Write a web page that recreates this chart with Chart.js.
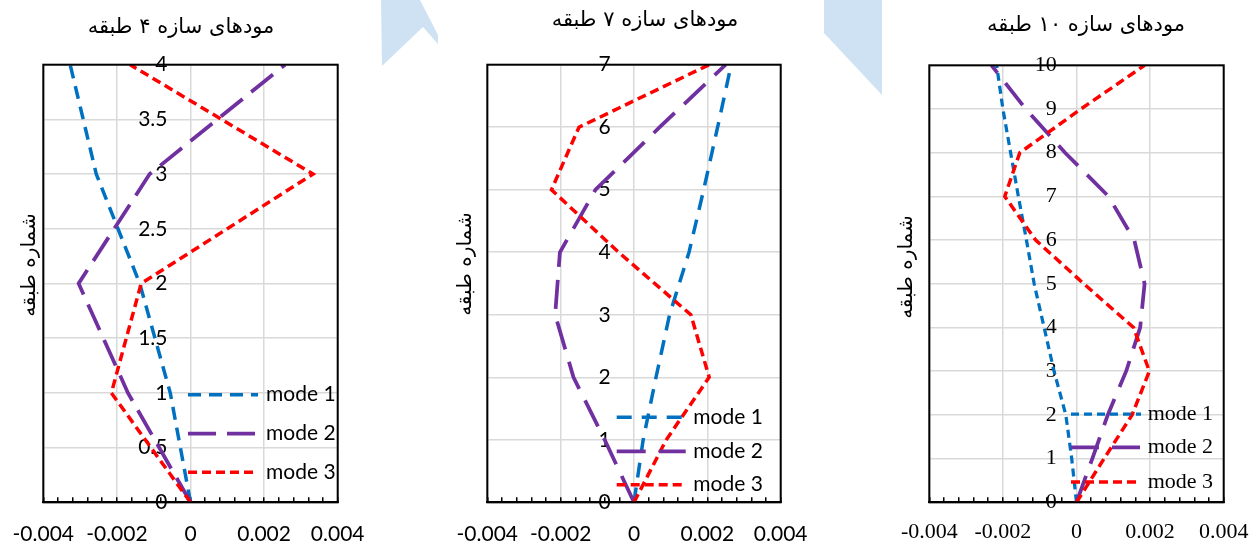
<!DOCTYPE html>
<html><head><meta charset="utf-8">
<script src="https://cdn.jsdelivr.net/npm/chart.js@4.4.1/dist/chart.umd.min.js"></script>
<style>
html,body{margin:0;padding:0;background:#fff;}
#wrap{position:relative;width:1252px;height:544px;overflow:hidden;background:#fff;}
#wrap canvas{position:absolute;left:0;top:0;}
svg.deco{position:absolute;left:0;top:0;}
</style></head><body>
<div id="wrap">
<svg class="deco" width="1252" height="544"><polygon points="381,0 420,0 438,35 438,44 423,27 382,66" fill="#cfe2f3"/><polygon points="824,0 882,0 882,95 824,33" fill="#cfe2f3"/></svg>
<canvas id="c1" width="1252" height="544"></canvas>
<canvas id="c2" width="1252" height="544"></canvas>
<canvas id="c3" width="1252" height="544"></canvas>
</div>
<script>
// ---------- data ----------
const seriesNames = ['mode 1', 'mode 2', 'mode 3'];
const titles = ['مودهای سازه ۴ طبقه', 'مودهای سازه ۷ طبقه', 'مودهای سازه ۱۰ طبقه'];
const yAxisTitle = 'شماره طبقه';
const xTickLabels = ['-0.004', '-0.002', '0', '0.002', '0.004'];

const floors4 = [0, 1, 2, 3, 4];
const mode1_4 = [0, -0.00055, -0.00138, -0.00256, -0.00327];
const mode2_4 = [0, -0.0017, -0.00304, -0.00111, 0.00257];
const mode3_4 = [0, -0.00215, -0.00134, 0.00333, -0.00164];
const yTickLabels4 = ['0', '0.5', '1', '1.5', '2', '2.5', '3', '3.5', '4'];

const floors7 = [0, 1, 2, 3, 4, 5, 6, 7];
const mode1_7 = [0, 0.00025, 0.0006, 0.00097, 0.0015, 0.0019, 0.00228, 0.00265];
const mode2_7 = [0, -0.0008, -0.00165, -0.00215, -0.00202, -0.00105, 0.0007, 0.0025];
const mode3_7 = [0, 0.00088, 0.00205, 0.00155, -0.00042, -0.00225, -0.0015, 0.00205];
const yTickLabels7 = ['0', '1', '2', '3', '4', '5', '6', '7'];

const floors10 = [0, 1, 2, 3, 4, 5, 6, 7, 8, 9, 10];
const mode1_10 = [0, -0.00013, -0.00029, -0.00061, -0.00088, -0.00115, -0.00136, -0.00158, -0.00179, -0.002, -0.00217];
const mode2_10 = [0, 0.00043, 0.00085, 0.00135, 0.00173, 0.00185, 0.00157, 0.00087, -0.00031, -0.00138, -0.00231];
const mode3_10 = [0, 0.00075, 0.00151, 0.00198, 0.00155, 0.0002, -0.00111, -0.00195, -0.00154, 0.00012, 0.00185];
const yTickLabels10 = ['0', '1', '2', '3', '4', '5', '6', '7', '8', '9', '10'];

// ---------- styling ----------
const BLUE = '#0070C0', PURPLE = '#7030A0', RED = '#FF0000', GRID = '#D9D9D9';
const W = 1252, H = 544, XH = 41;
const PERSIAN_FONT = '"DejaVu Sans"';

function isMajor(v) { const q = v / 0.002; return Math.abs(q - Math.round(q)) < 1e-6; }

const framePlugin = {
  id: 'frame',
  afterDraw(chart, args, o) {
    const {ctx, chartArea: a} = chart;
    ctx.save();
    ctx.strokeStyle = o.color; ctx.lineWidth = o.width;
    ctx.strokeRect(a.left, a.top, a.right - a.left, a.bottom - a.top);
    ctx.restore();
  }
};

const insideLegend = {
  id: 'insideLegend',
  afterDraw(chart, args, o) {
    const ctx = chart.ctx;
    chart.data.datasets.forEach((ds, i) => {
      const y = o.rows[i];
      ctx.save();
      ctx.strokeStyle = ds.borderColor; ctx.lineWidth = ds.borderWidth;
      ctx.setLineDash(ds.borderDash || []);
      ctx.beginPath(); ctx.moveTo(o.x1, y); ctx.lineTo(o.x2, y); ctx.stroke();
      ctx.setLineDash([]);
      ctx.fillStyle = '#000'; ctx.font = o.font;
      ctx.textBaseline = 'middle'; ctx.textAlign = 'left';
      ctx.fillText(ds.label, o.textX, y);
      ctx.restore();
    });
  }
};

const captions = {
  id: 'captions',
  afterDraw(chart, args, o) {
    const ctx = chart.ctx;
    ctx.save();
    ctx.fillStyle = '#000';
    ctx.textAlign = 'center'; ctx.textBaseline = 'middle';
    ctx.font = o.titleFont;
    ctx.fillText(o.title, o.titleX, o.titleY);
    ctx.translate(o.yTitleX, o.yTitleY);
    ctx.rotate(-Math.PI / 2);
    ctx.font = o.yTitleFont;
    ctx.fillText(o.yTitle, 0, 0);
    ctx.restore();
  }
};

function buildChart(id, spec) {
  const a = spec.area;
  const font = {family: spec.family, size: spec.size};
  const datasets = spec.series.map((s, i) => ({
    label: seriesNames[i],
    data: s.values.map((v, k) => ({x: v, y: spec.floors[k]})),
    showLine: true,
    borderColor: s.color, backgroundColor: s.color,
    borderWidth: s.width, borderDash: s.dash, borderCapStyle: 'butt',
    pointRadius: 0, pointHoverRadius: 0, tension: 0, fill: false,
    order: 3 - i
  }));
  return new Chart(document.getElementById(id), {
    type: 'scatter',
    data: {datasets},
    options: {
      responsive: false, animation: false, devicePixelRatio: 1, events: [],
      layout: {padding: {left: a.left, right: W - a.right, top: a.top, bottom: H - a.bottom - XH}},
      plugins: {
        legend: {display: false}, tooltip: {enabled: false}, title: {display: false},
        frame: {color: '#000', width: 2},
        insideLegend: spec.legend,
        captions: spec.captions
      },
      scales: {
        x: {
          type: 'linear', position: 'bottom', min: -0.004, max: 0.004,
          afterFit: s => { s.height = XH; s.paddingLeft = 0; s.paddingRight = 0; },
          ticks: {
            stepSize: 0.0004, autoSkip: false, maxRotation: 0, minRotation: 0,
            padding: spec.xPad, color: '#000', font,
            callback: v => isMajor(v) ? xTickLabels[Math.round(v / 0.002) + 2] : ''
          },
          grid: {
            color: c => (c.tick && isMajor(c.tick.value)) ? GRID : 'rgba(0,0,0,0)',
            lineWidth: 1.5,
            drawTicks: true, tickLength: -5, tickColor: '#000', tickWidth: 1.5
          },
          border: {display: true, color: '#000', width: 2}
        },
        y: {
          type: 'linear', position: {x: -spec.yLabelGap}, min: 0, max: spec.floors[spec.floors.length - 1],
          afterFit: s => { s.width = 0; s.paddingTop = 0; s.paddingBottom = 0; },
          ticks: {
            stepSize: spec.yStep, color: '#000', font, autoSkip: false,
            callback: (v, i) => spec.yLabels[i]
          },
          grid: {color: GRID, lineWidth: 1.5, drawTicks: false},
          border: {display: false}
        }
      }
    },
    plugins: [framePlugin, insideLegend, captions]
  });
}

buildChart('c1', {
  area: {left: 43.3, right: 337.7, top: 64.7, bottom: 502.3},
  family: 'Lato', size: 21, xPad: 24, yLabelGap: 0.000625, yStep: 0.5,
  floors: floors4, yLabels: yTickLabels4,
  series: [
    {values: mode1_4, color: BLUE, width: 3.5, dash: [13, 8]},
    {values: mode2_4, color: PURPLE, width: 3.75, dash: [28, 11]},
    {values: mode3_4, color: RED, width: 3.5, dash: [9, 5]}
  ],
  legend: {x1: 188, x2: 258, textX: 266, rows: [394.7, 433.7, 472.3], font: '21px Lato'},
  captions: {title: titles[0], titleX: 181, titleY: 28, titleFont: '21px ' + PERSIAN_FONT,
             yTitle: yAxisTitle, yTitleX: 30, yTitleY: 265, yTitleFont: '20px ' + PERSIAN_FONT}
});

buildChart('c2', {
  area: {left: 487.3, right: 780.7, top: 64.7, bottom: 502.3},
  family: 'Lato', size: 21, xPad: 24, yLabelGap: 0.000635, yStep: 1,
  floors: floors7, yLabels: yTickLabels7,
  series: [
    {values: mode1_7, color: BLUE, width: 3.5, dash: [15, 10]},
    {values: mode2_7, color: PURPLE, width: 3.75, dash: [29, 13]},
    {values: mode3_7, color: RED, width: 3.5, dash: [9, 5]}
  ],
  legend: {x1: 616.7, x2: 685.7, textX: 693.3, rows: [417.3, 451.3, 484.7], font: '21px Lato'},
  captions: {title: titles[1], titleX: 645, titleY: 21, titleFont: '21px ' + PERSIAN_FONT,
             yTitle: yAxisTitle, yTitleX: 466, yTitleY: 264, yTitleFont: '20px ' + PERSIAN_FONT}
});

buildChart('c3', {
  area: {left: 929.3, right: 1223.7, top: 65.3, bottom: 502.3},
  family: '"Liberation Serif"', size: 22, xPad: 22, yLabelGap: 0.000535, yStep: 1,
  floors: floors10, yLabels: yTickLabels10,
  series: [
    {values: mode1_10, color: BLUE, width: 3.25, dash: [8, 5]},
    {values: mode2_10, color: PURPLE, width: 3.75, dash: [28, 13]},
    {values: mode3_10, color: RED, width: 3.5, dash: [9, 5]}
  ],
  legend: {x1: 1071, x2: 1141, textX: 1147.7, rows: [414, 447.3, 482], font: '22px "Liberation Serif"'},
  captions: {title: titles[2], titleX: 1086, titleY: 26, titleFont: '21px ' + PERSIAN_FONT,
             yTitle: yAxisTitle, yTitleX: 907, yTitleY: 267, yTitleFont: '20px ' + PERSIAN_FONT}
});
</script>
</body></html>
